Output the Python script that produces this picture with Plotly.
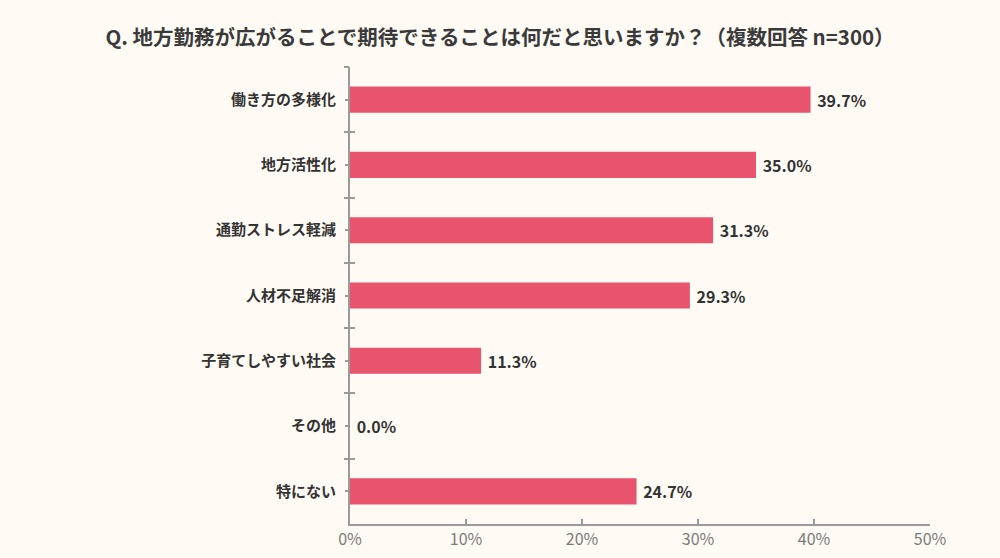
import plotly.graph_objects as go

categories = ["働き方の多様化", "地方活性化", "通勤ストレス軽減", "人材不足解消",
              "子育てしやすい社会", "その他", "特にない"]
values = [39.7, 35.0, 31.3, 29.3, 11.3, 0.0, 24.7]
x_tick_values = [0, 10, 20, 30, 40, 50]
x_tick_labels = ["0%", "10%", "20%", "30%", "40%", "50%"]
title_text = "Q. 地方勤務が広がることで期待できることは何だと思いますか？（複数回答 n=300）"

FONT = "Noto Sans CJK JP"
BG = "#FFFBF4"
BAR = "#E8546E"
AXIS = "#9A9A9A"
TEXT = "#333333"

fig = go.Figure()
fig.add_trace(go.Bar(
    x=values, y=categories, orientation="h", width=0.4,
    marker=dict(color=BAR, line=dict(width=0)),
    text=[f"\u00a0{v:.1f}%" for v in values],
    textposition="outside", cliponaxis=False,
    textfont=dict(family=FONT, size=16, color=TEXT, weight=700),
    hoverinfo="skip",
))
# invisible helpers to draw category-boundary ticks on both sides of the axis
for ax in ["y2", "y3"]:
    fig.add_trace(go.Scatter(x=[0] * len(categories), y=categories, yaxis=ax,
                             mode="markers", marker=dict(opacity=0),
                             hoverinfo="skip", showlegend=False))

common_y = dict(type="category", categoryorder="array", categoryarray=categories,
                range=[len(categories) - 0.5, -0.5], showgrid=False, zeroline=False,
                automargin=False)

fig.update_layout(
    width=1000, height=558,
    paper_bgcolor=BG, plot_bgcolor=BG,
    margin=dict(l=350, r=70, t=67, b=34),
    showlegend=False,
    title=dict(text=title_text, x=0.5, xanchor="center", xref="container",
               y=1 - 38 / 558, yref="container", yanchor="middle",
               font=dict(family=FONT, size=20.5, color="#3A3A3A", weight=700)),
    xaxis=dict(range=[0, 50], tickmode="array", tickvals=x_tick_values, ticktext=x_tick_labels,
               ticks="inside", ticklen=5, tickwidth=1.5, tickcolor=AXIS,
               showline=True, linecolor=AXIS, linewidth=1.5,
               showgrid=False, zeroline=False, automargin=False,
               tickfont=dict(family=FONT, size=16, color="#7A7A7A")),
    yaxis=dict(**common_y, ticks="outside", ticklen=3, tickwidth=1.5, tickcolor=AXIS,
               showline=True, linecolor=AXIS, linewidth=2, ticklabelstandoff=6,
               tickfont=dict(family=FONT, size=15, color=TEXT, weight=700)),
    yaxis2=dict(**common_y, overlaying="y", anchor="x", side="left", tickson="boundaries",
                ticks="outside", ticklen=5, tickwidth=1.5, tickcolor=AXIS,
                showticklabels=False, showline=False),
    yaxis3=dict(**common_y, overlaying="y", anchor="x", side="left", tickson="boundaries",
                ticks="inside", ticklen=5, tickwidth=1.5, tickcolor=AXIS,
                showticklabels=False, showline=False),
)

fig.write_html("out.html")
